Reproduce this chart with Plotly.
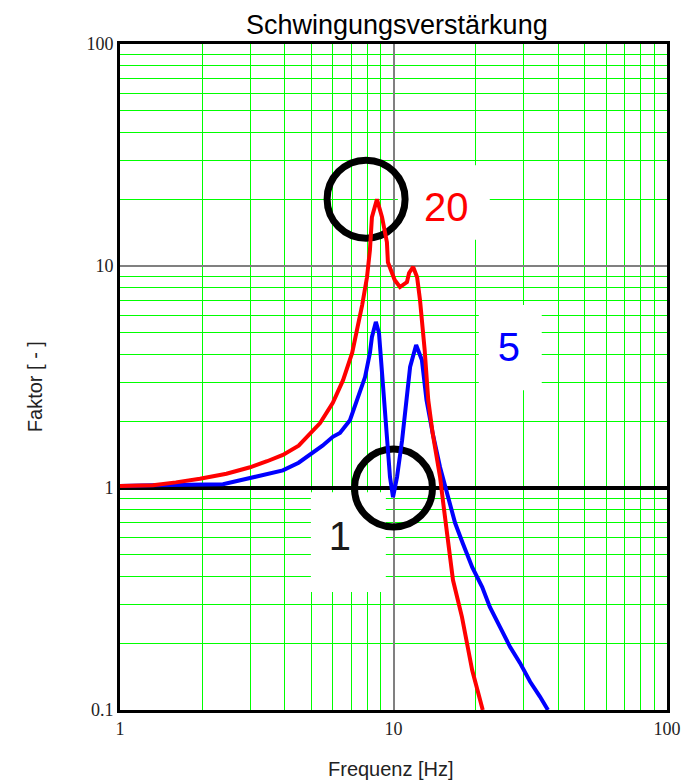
import plotly.graph_objects as go

# Frequency response data (frequency in Hz, amplification factor)
red_f = [1.0, 1.32, 1.6, 1.96, 2.45, 2.99, 3.45, 3.94, 4.5, 4.95, 5.39, 6.0, 6.54, 7.06, 7.42,
         7.68, 8.0, 8.2, 8.34, 8.70, 9.08, 9.46, 9.54, 10.1, 10.56, 11.2, 11.4, 11.8, 12.2,
         12.5, 13.0, 13.4, 13.9, 14.8, 15.2, 15.7, 16.1, 16.5, 17.8, 19.4, 21.2]
red_v = [1.02, 1.03, 1.06, 1.10, 1.16, 1.24, 1.32, 1.41, 1.55, 1.75, 1.96, 2.42, 3.06, 4.06, 5.31,
         6.67, 8.9, 11.8, 16.6, 20.0, 16.6, 12.8, 10.4, 8.65, 8.04, 8.47, 9.3, 9.9, 8.9,
         7.03, 4.19, 2.49, 1.77, 1.12, 0.855, 0.627, 0.489, 0.385, 0.262, 0.151, 0.1]

blue_f = [1.0, 1.32, 2.38, 2.99, 3.45, 3.94, 4.5, 4.95, 5.5, 6.0, 6.37, 6.93, 7.42, 7.87, 8.2,
          8.34, 8.62, 8.85, 9.14, 9.46, 9.71, 9.96, 10.3, 10.75, 11.2, 11.5, 12.1, 12.7, 13.2,
          13.9, 14.8, 15.7, 16.8, 17.9, 19.4, 21.1, 22.5, 24.5, 26.7, 29.0, 31.6, 34.3, 36.7]
blue_v = [1.02, 1.03, 1.04, 1.11, 1.15, 1.2, 1.3, 1.41, 1.55, 1.70, 1.77, 2.02, 2.57, 3.16, 4.06,
          4.79, 5.6, 4.99, 2.97, 1.77, 1.12, 0.91, 1.12, 1.64, 2.68, 3.51, 4.41, 3.77, 2.49,
          1.77, 1.24, 0.95, 0.695, 0.565, 0.44, 0.358, 0.291, 0.237, 0.192, 0.163, 0.134, 0.115, 0.1]

# Reference line at factor 1
ref_f = [1, 100]
ref_v = [1, 1]

# Highlight rings
ring_f = [7.94, 10.0]
ring_v = [20.0, 1.0]

# Curve labels
label_text = ["20", "5", "1"]
label_f = [15.6, 26.4, 6.37]
label_v = [17.7, 4.14, 0.583]
label_color = ["#ff0000", "#0000ff", "#1a1a1a"]

X_LOG = (0.0, 2.0)    # log10 axis ranges
Y_LOG = (-1.0, 2.0)


def paper_to_data(xp, yp):
    """Convert plot-area fractions to data values on the log axes."""
    return (10 ** (X_LOG[0] + xp * (X_LOG[1] - X_LOG[0])),
            10 ** (Y_LOG[0] + yp * (Y_LOG[1] - Y_LOG[0])))


fig = go.Figure()

# White backing boxes behind the curve labels (drawn above the grid)
boxes = [(0.508, 0.706, 0.676, 0.818), (0.656, 0.480, 0.771, 0.608), (0.349, 0.177, 0.486, 0.327)]
for x0, y0, x1, y1 in boxes:
    (fx0, vy0), (fx1, vy1) = paper_to_data(x0, y0), paper_to_data(x1, y1)
    fig.add_trace(go.Scatter(
        x=[fx0, fx1, fx1, fx0, fx0], y=[vy0, vy0, vy1, vy1, vy0],
        mode="lines", fill="toself", fillcolor="white", line=dict(width=0, color="white"),
        hoverinfo="skip", showlegend=False,
    ))

fig.add_trace(go.Scatter(
    x=ring_f, y=ring_v, mode="markers",
    marker=dict(symbol="circle-open", size=78, color="black", line=dict(width=7, color="black")),
    hoverinfo="skip", showlegend=False, cliponaxis=False,
))
fig.add_trace(go.Scatter(x=ref_f, y=ref_v, mode="lines",
                         line=dict(color="black", width=4), showlegend=False))
fig.add_trace(go.Scatter(x=blue_f, y=blue_v, mode="lines",
                         line=dict(color="#0000ff", width=4), showlegend=False))
fig.add_trace(go.Scatter(x=red_f, y=red_v, mode="lines",
                         line=dict(color="#ff0000", width=4), showlegend=False))
fig.add_trace(go.Scatter(
    x=label_f, y=label_v, mode="text", text=label_text,
    textfont=dict(family="Liberation Sans, Arial", size=40, color=label_color),
    textposition="middle center", showlegend=False, hoverinfo="skip",
))

axis_common = dict(
    type="log", dtick=1, showgrid=True, gridcolor="#808080", gridwidth=1.5,
    showline=True, linecolor="black", linewidth=3, mirror=True,
    ticks="", zeroline=False, automargin=False,
    tickfont=dict(family="Liberation Serif, Times New Roman", size=18, color="#222"),
    minor=dict(dtick="D1", showgrid=True, gridcolor="#00ff00", gridwidth=1, ticks=""),
)

title_font = dict(family="Liberation Sans, Arial", size=20, color="#222")

fig.update_layout(
    width=695, height=781,
    margin=dict(l=120, r=28, t=44, b=71),
    paper_bgcolor="white", plot_bgcolor="white",
    title=dict(text="Schwingungsverstärkung", x=0.571, xanchor="center", y=0.969, yanchor="middle",
               font=dict(family="Liberation Sans, Arial", size=27, color="black")),
    xaxis=dict(axis_common, range=list(X_LOG)),
    yaxis=dict(axis_common, range=list(Y_LOG)),
    annotations=[
        dict(text="Frequenz [Hz]", xref="paper", yref="paper", x=0.495, y=-0.0886,
             xanchor="center", yanchor="middle", showarrow=False, font=title_font),
        dict(text="Faktor [ - ]", xref="paper", yref="paper", x=-0.155, y=0.485,
             xanchor="center", yanchor="middle", showarrow=False, textangle=-90, font=title_font),
    ],
)

fig.write_html("out.html")
